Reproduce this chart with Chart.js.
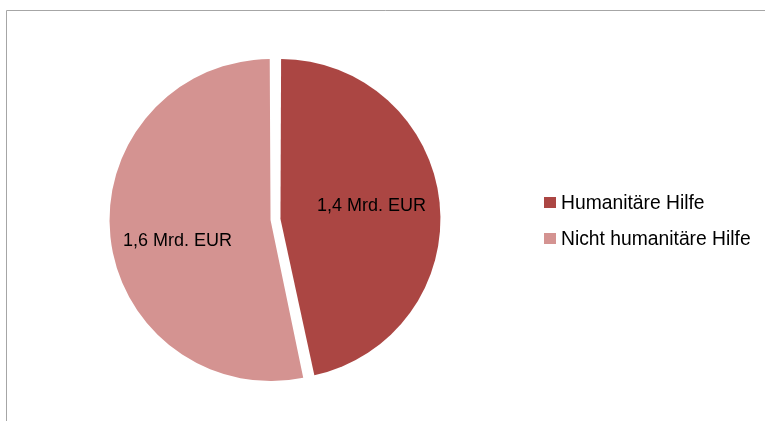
<!DOCTYPE html>
<html>
<head>
<meta charset="utf-8">
<script src="https://cdn.jsdelivr.net/npm/chart.js@4"></script>
<style>
  html, body { margin: 0; padding: 0; background: #fff; }
  #wrap { width: 765px; height: 421px; }
</style>
</head>
<body>
<div id="wrap"><canvas id="pie" width="765" height="421"></canvas></div>
<script>
const categories = ["Humanitäre Hilfe", "Nicht humanitäre Hilfe"];
const values = [1.4, 1.6];
const valueLabels = ["1,4 Mrd. EUR", "1,6 Mrd. EUR"];
const colors = ["#AB4643", "#D49391"];

const LABEL_FONT = "18px 'Liberation Sans', Arial, sans-serif";
const LEGEND_FONT = "19.3px 'Liberation Sans', Arial, sans-serif";

// frame lines, labels and legend drawn by hand like the original
const extras = {
  id: "extras",
  beforeDraw: (chart) => {
    const ctx = chart.ctx;
    ctx.save();
    ctx.strokeStyle = "#a6a6a6";
    ctx.lineWidth = 1;
    ctx.beginPath();
    ctx.moveTo(6.5, 421);
    ctx.lineTo(6.5, 10.5);
    ctx.lineTo(765, 10.5);
    ctx.stroke();
    ctx.restore();
  },
  afterDraw: (chart) => {
    const ctx = chart.ctx;
    const arcs = chart.getDatasetMeta(0).data;
    ctx.save();
    ctx.font = LABEL_FONT;
    ctx.fillStyle = "#000";
    ctx.textAlign = "center";
    ctx.textBaseline = "middle";
    // Excel puts the value labels a bit off the centroid
    const nudge = [[3, -4], [-5, 12]];
    arcs.forEach((arc, i) => {
      const mid = (arc.startAngle + arc.endAngle) / 2;
      const r = arc.outerRadius * 0.6;
      const x = arc.x + Math.cos(mid) * r + nudge[i][0];
      const y = arc.y + Math.sin(mid) * r + nudge[i][1];
      ctx.fillText(valueLabels[i], x, y);
    });

    ctx.font = LEGEND_FONT;
    ctx.textAlign = "left";
    categories.forEach((c, i) => {
      const y = 202.5 + i * 36;
      ctx.fillStyle = colors[i];
      ctx.fillRect(544, y - 5.5, 12, 11);
      ctx.fillStyle = "#000";
      ctx.fillText(c, 561, y + 1);
    });
    ctx.restore();
  },
};

new Chart(document.getElementById("pie"), {
  type: "pie",
  data: {
    labels: categories,
    datasets: [
      {
        data: values,
        backgroundColor: colors,
        borderWidth: 0,
        offset: 20,
        hoverOffset: 20,
      },
    ],
  },
  options: {
    responsive: false,
    animation: false,
    events: [],
    radius: 156,
    layout: { padding: { left: 105.5, right: 319.5, top: 49.5, bottom: 31.5 } },
    plugins: {
      legend: { display: false },
      tooltip: { enabled: false },
    },
  },
  plugins: [extras],
});
</script>
</body>
</html>
